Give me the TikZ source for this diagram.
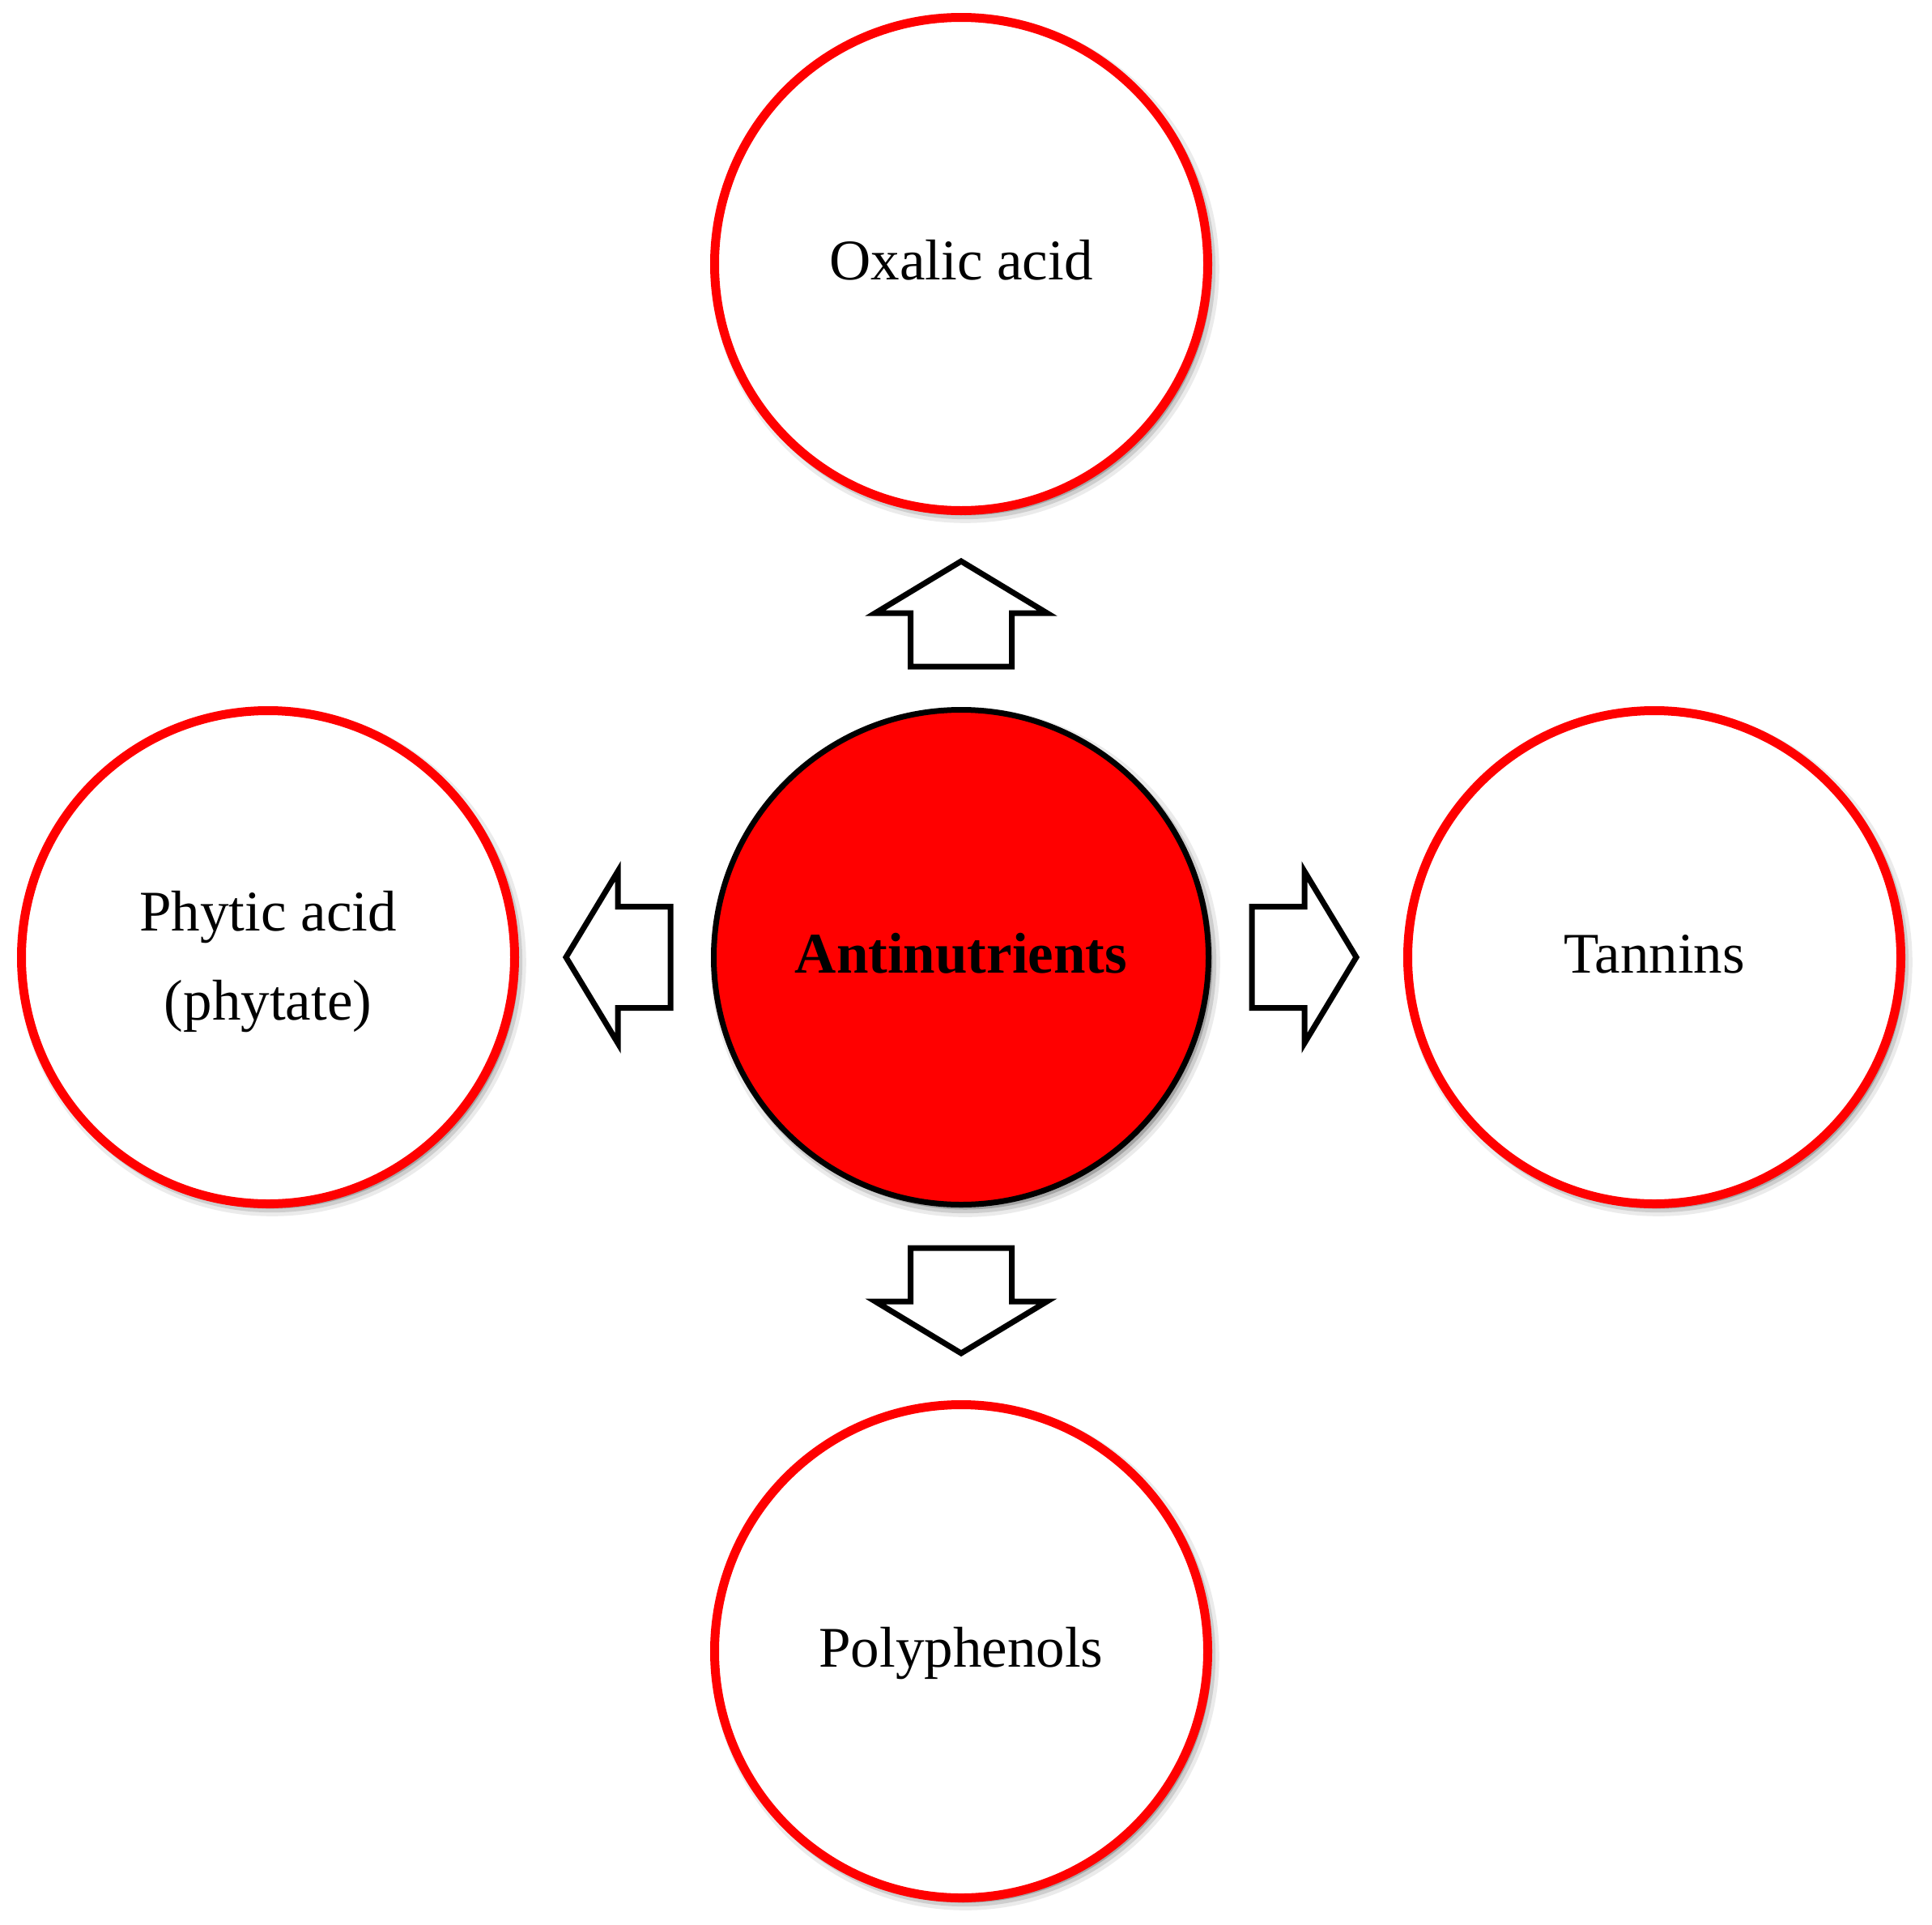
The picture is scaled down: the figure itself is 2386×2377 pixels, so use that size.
\documentclass[tikz,border=0pt]{standalone}
\usepackage{fontspec}
\setmainfont{Liberation Serif}
\usetikzlibrary{shadows}
\begin{document}
\begin{tikzpicture}[x=1pt,y=-1pt,
  softshadow/.style={
    general shadow={fill=black,opacity=0.08,shadow scale=1.03,shadow xshift=5pt,shadow yshift=-6pt},
    general shadow={fill=black,opacity=0.12,shadow scale=1.015,shadow xshift=5pt,shadow yshift=-6pt},
    general shadow={fill=black,opacity=0.2,shadow scale=1.0,shadow xshift=5pt,shadow yshift=-6pt}},
  item/.style={circle,draw=red,fill=white,line width=11pt,minimum size=609pt,inner sep=0pt,softshadow},
  hub/.style={circle,draw=black,fill=red,line width=7pt,minimum size=611pt,inner sep=0pt,softshadow},
  txt/.style={font=\fontsize{71}{110}\selectfont,inner sep=0pt,anchor=base,yshift=-19pt},
  blockarrow/.style={draw=black,fill=white,line width=7pt,line join=miter}]
\useasboundingbox (0,0) rectangle (2386,2377);
\node[hub]  (hub) at (1187,1182) {};
\node[item] (ox)  at (1187,326)  {};
\node[item] (ph)  at (331,1182)  {};
\node[item] (ta)  at (2043,1182) {};
\node[item] (po)  at (1187,2039) {};
\node[txt] (oxT) at (ox.center) {Oxalic acid};
\node[txt,font=\fontsize{71}{110}\selectfont\bfseries] (hubT) at (hub.center) {Antinutrients};
\node[txt] (taT) at (ta.center) {Tannins};
\node[txt] (poT) at (po.center) {Polyphenols};
\node[font=\fontsize{71}{110}\selectfont,align=center,inner sep=0pt,yshift=-6pt] (phT) at (ph.center) {Phytic acid\\(phytate)};
% block arrows
\draw[blockarrow,shift={(hub.center)}] (-62.5,-359) -- (-62.5,-425) -- (-106,-425) -- (0,-489) -- (106,-425) -- (62.5,-425) -- (62.5,-359) -- cycle;
\draw[blockarrow,shift={(hub.center)}] (-62.5,359) -- (-62.5,425) -- (-106,425) -- (0,489) -- (106,425) -- (62.5,425) -- (62.5,359) -- cycle;
\draw[blockarrow,shift={(hub.center)}] (-359,-62.5) -- (-424,-62.5) -- (-424,-106) -- (-488,0) -- (-424,106) -- (-424,62.5) -- (-359,62.5) -- cycle;
\draw[blockarrow,shift={(hub.center)}] (359,-62.5) -- (424,-62.5) -- (424,-106) -- (488,0) -- (424,106) -- (424,62.5) -- (359,62.5) -- cycle;
\end{tikzpicture}
\end{document}
